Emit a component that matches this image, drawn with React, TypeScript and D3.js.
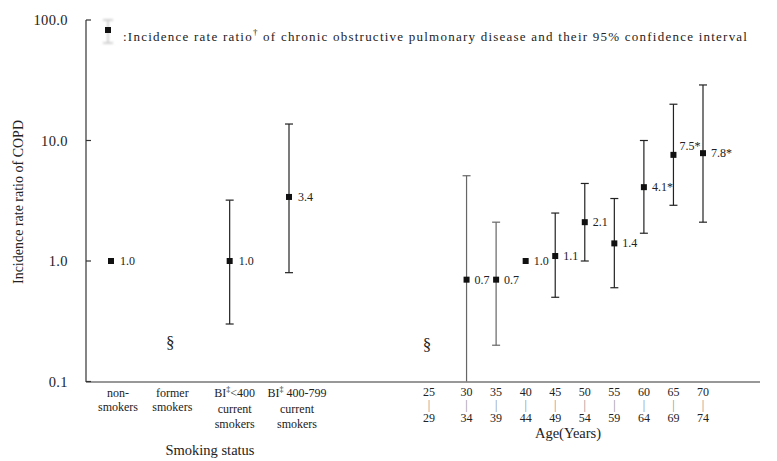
import React from "react";
import * as d3 from "d3";

const smokingCats = ["non-smokers", "former smokers", "BI<400 current smokers", "BI 400-799 current smokers"];
const smokingIRR: (number | null)[] = [1.0, null, 1.0, 3.4];
const smokingLow: (number | null)[] = [null, null, 0.3, 0.8];
const smokingHigh: (number | null)[] = [null, null, 3.2, 13.7];
const smokingText = ["1.0", "", "1.0", "3.4"];

const ageStart = [25, 30, 35, 40, 45, 50, 55, 60, 65, 70];
const ageEnd = [29, 34, 39, 44, 49, 54, 59, 64, 69, 74];
const ageIRR: (number | null)[] = [null, 0.7, 0.7, 1.0, 1.1, 2.1, 1.4, 4.1, 7.6, 7.85];
const ageLow: (number | null)[] = [null, 0.1, 0.2, null, 0.5, 1.0, 0.6, 1.7, 2.9, 2.1];
const ageHigh: (number | null)[] = [null, 5.1, 2.1, null, 2.5, 4.4, 3.3, 10.0, 20.0, 28.9];
const ageText = ["", "0.7", "0.7", "1.0", "1.1", "2.1", "1.4", "4.1*", "7.5*", "7.8*"];

const yTicks = [0.1, 1, 10, 100];

const FONT = "'Liberation Serif', 'Times New Roman', serif";

export default function App() {
  const W = 777, H = 461;
  const axisX = 86, axisY = 382, axisRight = 760;
  const y = d3.scaleLog().domain([0.1, 100]).range([381.5, 20]);
  const xs = d3.scalePoint<string>().domain(smokingCats).range([111, 289]);
  const xa = d3.scalePoint<string>().domain(ageStart.map(String)).range([437, 703]);
  const fmt = d3.format(".1f");
  const cap = 4;

  const renderPoint = (
    key: string, cx: number, v: number | null, lo: number | null, hi: number | null,
    label: string, color: string, labelDy: number, labelDx: number
  ) => {
    if (v == null) return null;
    return (
      <g key={key}>
        {lo != null && hi != null && (
          <g stroke={color} strokeWidth={1.2}>
            <line x1={cx} x2={cx} y1={y(hi)} y2={Math.min(y(lo), axisY)} />
            <line x1={cx - cap} x2={cx + cap} y1={y(hi)} y2={y(hi)} />
            {y(lo) < axisY - 1 && <line x1={cx - cap} x2={cx + cap} y1={y(lo)} y2={y(lo)} />}
          </g>
        )}
        <rect x={cx - 3} y={y(v) - 3} width={6} height={6} fill="#111" />
        <text x={cx + labelDx} y={y(v) + 4 + labelDy} fontSize={12} fill="#222">{label}</text>
      </g>
    );
  };

  return (
    <svg width={W} height={H} style={{ position: "absolute", left: 0, top: 0, background: "#fff" }} fontFamily={FONT}>
      <defs>
        <filter id="blur" x="-50%" y="-50%" width="200%" height="200%">
          <feGaussianBlur stdDeviation="1.2" />
        </filter>
      </defs>
      {/* axes */}
      <line x1={axisX} x2={axisX} y1={20} y2={axisY} stroke="#333" strokeWidth={1.2} />
      <line x1={axisX} x2={axisRight} y1={axisY} y2={axisY} stroke="#333" strokeWidth={1.2} />
      {yTicks.map((t) => (
        <g key={t}>
          <line x1={axisX} x2={axisX + 5} y1={y(t)} y2={y(t)} stroke="#333" strokeWidth={1.2} />
          <text x={68} y={y(t) + 5} fontSize={14.5} textAnchor="end" fill="#222" letterSpacing={0.4}>{fmt(t)}</text>
        </g>
      ))}
      <text transform={`translate(23,202) rotate(-90)`} fontSize={14} textAnchor="middle" fill="#222">
        Incidence rate ratio of COPD
      </text>

      {/* legend */}
      <g filter="url(#blur)" stroke="#c8c8c8" strokeWidth={1.6}>
        <line x1={108} x2={108} y1={20} y2={43} />
        <line x1={103} x2={113} y1={20} y2={20} />
        <line x1={103} x2={113} y1={43} y2={43} />
      </g>
      <rect x={105} y={27} width={6} height={6} fill="#111" />
      <text x={123} y={41} fontSize={13} fill="#222" textLength={624} lengthAdjust="spacing">
        :Incidence rate ratio<tspan dy={-6} fontSize={9}>†</tspan><tspan dy={6}> of chronic obstructive pulmonary disease and their 95% confidence interval</tspan>
      </text>

      {/* smoking status */}
      {smokingCats.map((c, i) =>
        renderPoint("s" + i, xs(c)!, smokingIRR[i], smokingLow[i], smokingHigh[i], smokingText[i], "#222", 0, 9)
      )}
      <text x={xs(smokingCats[1])!} y={348} fontSize={17} textAnchor="middle" fill="#222">§</text>
      <g fontSize={12} fill="#222" textAnchor="middle">
        <text x={xs(smokingCats[0])! + 7} y={397}>non-</text>
        <text x={xs(smokingCats[0])! + 7} y={411}>smokers</text>
        <text x={xs(smokingCats[1])! + 2} y={397}>former</text>
        <text x={xs(smokingCats[1])! + 2} y={411}>smokers</text>
        <text x={xs(smokingCats[2])! + 5} y={397}>BI<tspan dy={-5} fontSize={8}>‡</tspan><tspan dy={5}>&lt;400</tspan></text>
        <text x={xs(smokingCats[2])! + 5} y={413}>current</text>
        <text x={xs(smokingCats[2])! + 5} y={428}>smokers</text>
        <text x={xs(smokingCats[3])! + 8} y={397}>BI<tspan dy={-5} fontSize={8}>‡</tspan><tspan dy={5}> 400-799</tspan></text>
        <text x={xs(smokingCats[3])! + 8} y={413}>current</text>
        <text x={xs(smokingCats[3])! + 8} y={428}>smokers</text>
      </g>
      <text x={210} y={455} fontSize={14.5} textAnchor="middle" fill="#222">Smoking status</text>

      {/* age */}
      {ageStart.map((a, i) =>
        renderPoint("a" + i, xa(String(a))!, ageIRR[i], ageLow[i], ageHigh[i], ageText[i],
          i <= 2 ? "#666" : "#222", ageText[i] === "7.5*" ? -9 : 0, ageText[i] === "7.5*" ? 6 : 8)
      )}
      <text x={xa(String(ageStart[0]))! - 10} y={350} fontSize={17} textAnchor="middle" fill="#222">§</text>
      <g fontSize={12} fill="#222" textAnchor="middle">
        {ageStart.map((a, i) => (
          <g key={a}>
            <text x={xa(String(a))! + (i === 0 ? -8 : 0)} y={396}>{a}</text>
            <text x={xa(String(a))! + (i === 0 ? -8 : 0)} y={409} fill="#888">|</text>
            <text x={xa(String(a))! + (i === 0 ? -8 : 0)} y={422}>{ageEnd[i]}</text>
          </g>
        ))}
      </g>
      <text x={568} y={438} fontSize={14.5} textAnchor="middle" fill="#222">Age(Years)</text>
    </svg>
  );
}
